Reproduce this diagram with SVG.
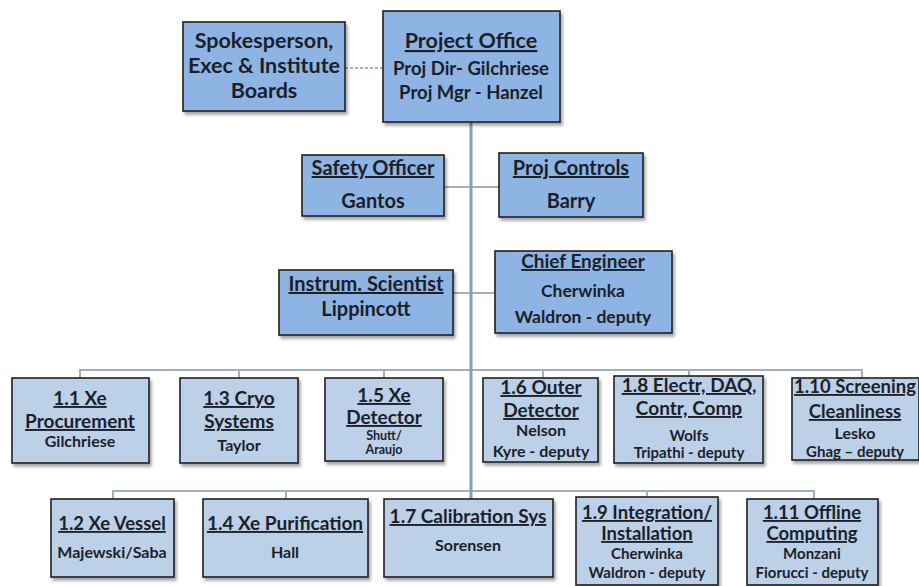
<svg xmlns="http://www.w3.org/2000/svg" width="919" height="586" viewBox="0 0 919 586">
  <defs>
    <filter id="shadow" x="-10%" y="-10%" width="125%" height="130%">
      <feDropShadow dx="2" dy="3" stdDeviation="1.6" flood-color="#000" flood-opacity="0.35"/>
    </filter>
  </defs>
  <style>
    .box-top { fill: #8db4e2; stroke: #1e1e24; stroke-width: 1.6; filter: url(#shadow); }
    .box-low { fill: #bcd0e8; stroke: #1e1e24; stroke-width: 1.6; filter: url(#shadow); }
    text { font-family: Lato, "Liberation Sans", sans-serif; font-weight: 700; fill: #1b1f2a; text-anchor: middle; }
    .h { text-decoration: underline; }
    .f21 { font-size: 21.5px; }
    .f20 { font-size: 20px; }
    .f19 { font-size: 19px; }
    .f18 { font-size: 18.5px; }
    .f17 { font-size: 17.5px; }
    .f16 { font-size: 16px; }
    .f15 { font-size: 15px; }
    .f12 { font-size: 12.5px; }
    .trunk { stroke: #8a9cb2; stroke-width: 3; fill: none; }
    .link { stroke: #9fb0c2; stroke-width: 2; fill: none; }
    .dash { stroke: #7f9bb8; stroke-width: 1.5; stroke-dasharray: 3 2; fill: none; }
  </style>

  <rect width="919" height="586" fill="#ffffff"/>

  <!-- connectors -->
  <g id="connectors">
    <line class="dash" x1="345" y1="68" x2="383" y2="68"/>
    <line class="link" x1="444" y1="187" x2="499" y2="187"/>
    <line class="link" x1="453" y1="293" x2="495" y2="293"/>
    <path class="link" d="M80 378 V370 H862 V378"/>
    <line class="link" x1="239" y1="370" x2="239" y2="378"/>
    <line class="link" x1="384" y1="370" x2="384" y2="378"/>
    <line class="link" x1="543" y1="370" x2="543" y2="378"/>
    <line class="link" x1="689" y1="370" x2="689" y2="376"/>
    <path class="link" d="M113 499 V491 H814 V499"/>
    <line class="link" x1="286" y1="491" x2="286" y2="499"/>
    <line class="link" x1="647" y1="491" x2="647" y2="497"/>
    <line class="trunk" x1="471" y1="122" x2="471" y2="499"/>
  </g>

  <!-- top tier -->
  <g id="spokesperson">
    <rect class="box-top" x="183" y="22" width="162" height="89"/>
    <text class="f21" x="264" y="48">Spokesperson,</text>
    <text class="f21" x="264" y="73">Exec &amp; Institute</text>
    <text class="f21" x="264" y="98">Boards</text>
  </g>

  <g id="project-office">
    <rect class="box-top" x="383" y="11" width="177" height="111"/>
    <text class="f21 h" x="471" y="48">Project Office</text>
    <text class="f18" x="471" y="75">Proj Dir- Gilchriese</text>
    <text class="f18" x="471" y="99">Proj Mgr - Hanzel</text>
  </g>

  <g id="safety-officer">
    <rect class="box-top" x="302" y="155" width="142" height="61"/>
    <text class="f20 h" x="373" y="175">Safety Officer</text>
    <text class="f20" x="373" y="208">Gantos</text>
  </g>

  <g id="proj-controls">
    <rect class="box-top" x="499" y="153" width="144" height="64"/>
    <text class="f20 h" x="571" y="175">Proj Controls</text>
    <text class="f20" x="571" y="208">Barry</text>
  </g>

  <g id="instrum-scientist">
    <rect class="box-top" x="279" y="270" width="174" height="65"/>
    <text class="f20 h" x="366" y="291">Instrum. Scientist</text>
    <text class="f20" x="366" y="316">Lippincott</text>
  </g>

  <g id="chief-engineer">
    <rect class="box-top" x="495" y="251" width="177" height="82"/>
    <text class="f19 h" x="583" y="268">Chief Engineer</text>
    <text class="f17" x="583" y="297">Cherwinka</text>
    <text class="f17" x="583" y="323">Waldron - deputy</text>
  </g>

  <!-- level 2, first row -->
  <g id="wbs-1-1">
    <rect class="box-low" x="12" y="378" width="137" height="85"/>
    <text class="f19 h" x="80" y="405">1.1 Xe</text>
    <text class="f19 h" x="80" y="428">Procurement</text>
    <text class="f16" x="80" y="447">Gilchriese</text>
  </g>

  <g id="wbs-1-3">
    <rect class="box-low" x="180" y="378" width="118" height="85"/>
    <text class="f19 h" x="239" y="405">1.3 Cryo</text>
    <text class="f19 h" x="239" y="428">Systems</text>
    <text class="f16" x="239" y="451">Taylor</text>
  </g>

  <g id="wbs-1-5">
    <rect class="box-low" x="325" y="378" width="118" height="83"/>
    <text class="f19 h" x="384" y="402">1.5 Xe</text>
    <text class="f19 h" x="384" y="424">Detector</text>
    <text class="f12" x="384" y="440">Shutt/</text>
    <text class="f12" x="384" y="454">Araujo</text>
  </g>

  <g id="wbs-1-6">
    <rect class="box-low" x="483" y="378" width="115" height="84"/>
    <text class="f19 h" x="541" y="394">1.6 Outer</text>
    <text class="f19 h" x="541" y="417">Detector</text>
    <text class="f16" x="541" y="436">Nelson</text>
    <text class="f16" x="541" y="457">Kyre - deputy</text>
  </g>

  <g id="wbs-1-8">
    <rect class="box-low" x="614" y="376" width="149" height="87"/>
    <text class="f19 h" x="689" y="392">1.8 Electr, DAQ,</text>
    <text class="f19 h" x="689" y="415">Contr, Comp</text>
    <text class="f15" x="689" y="441">Wolfs</text>
    <text class="f15" x="689" y="458">Tripathi  - deputy</text>
  </g>

  <g id="wbs-1-10">
    <rect class="box-low" x="792" y="378" width="127" height="82"/>
    <text class="f18 h" x="855" y="393">1.10 Screening</text>
    <text class="f18 h" x="855" y="418">Cleanliness</text>
    <text class="f16" x="855" y="439">Lesko</text>
    <text class="f15" x="855" y="457">Ghag – deputy</text>
  </g>

  <!-- level 2, second row -->
  <g id="wbs-1-2">
    <rect class="box-low" x="51" y="499" width="123" height="78"/>
    <text class="f18 h" x="112" y="530">1.2 Xe Vessel</text>
    <text class="f16" x="112" y="558">Majewski/Saba</text>
  </g>

  <g id="wbs-1-4">
    <rect class="box-low" x="203" y="499" width="165" height="78"/>
    <text class="f19 h" x="285" y="530">1.4 Xe Purification</text>
    <text class="f16" x="285" y="558">Hall</text>
  </g>

  <g id="wbs-1-7">
    <rect class="box-low" x="384" y="499" width="169" height="78"/>
    <text class="f19 h" x="468" y="523">1.7 Calibration Sys</text>
    <text class="f16" x="468" y="551">Sorensen</text>
  </g>

  <g id="wbs-1-9">
    <rect class="box-low" x="576" y="497" width="142" height="88"/>
    <text class="f18 h" x="647" y="519">1.9 Integration/</text>
    <text class="f18 h" x="647" y="540">Installation</text>
    <text class="f15" x="647" y="559">Cherwinka</text>
    <text class="f15" x="647" y="578">Waldron  - deputy</text>
  </g>

  <g id="wbs-1-11">
    <rect class="box-low" x="747" y="499" width="131" height="86"/>
    <text class="f18 h" x="812" y="519">1.11 Offline</text>
    <text class="f18 h" x="812" y="540">Computing</text>
    <text class="f15" x="812" y="559">Monzani</text>
    <text class="f15" x="812" y="578">Fiorucci - deputy</text>
  </g>
</svg>
